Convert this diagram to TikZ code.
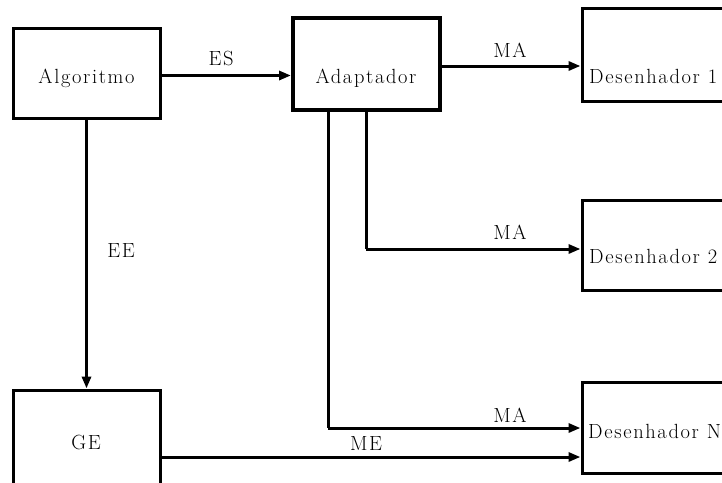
\documentclass[tikz,border=0pt]{standalone}
\usepackage{fontspec}
\setmainfont{Latin Modern Roman}[LetterSpace=8]
\usetikzlibrary{arrows.meta}
\begin{document}
\begin{tikzpicture}[x=1pt,y=-1pt,
  box/.style={draw,line width=3pt,rectangle,inner sep=0pt},
  thickbox/.style={box,line width=4pt},
  lbl/.style={inner sep=0pt,anchor=base,font=\fontsize{20.5}{24}\selectfont},
  arr/.style={line width=3pt,-{Triangle[length=12pt,width=9pt]}},
  ln/.style={line width=3pt}]
\useasboundingbox (0,0) rectangle (722,482);
\clip (0,0) rectangle (722,482);
% boxes
\node[box,minimum width=147pt,minimum height=90pt] (alg) at (86.5,73) {};
\node[thickbox,minimum width=147pt,minimum height=92pt] (ada) at (366.5,64) {};
\node[box,minimum width=218pt,minimum height=93pt] (d1) at (691,54.5) {};
\node[box,minimum width=218pt,minimum height=90pt] (d2) at (691,245) {};
\node[box,minimum width=218pt,minimum height=91pt] (dn) at (691,427.5) {};
\node[box,minimum width=147pt,minimum height=185pt] (ge) at (86.5,482.5) {};
% texts
\node[lbl] (talg) at (86.5,83) {Algoritmo};
\node[lbl] (tada) at (366,83) {Adaptador};
\node[lbl,anchor=base west] (td1) at (589,83) {Desenhador 1};
\node[lbl,anchor=base west] (td2) at (589,263) {Desenhador 2};
\node[lbl,anchor=base west] (tdn) at (588,438) {Desenhador N};
\node[lbl] (tge) at (86,449) {GE};
\node[lbl] (les) at (221,65) {ES};
\node[lbl] (lma1) at (510,57) {MA};
\node[lbl] (lma2) at (510,239) {MA};
\node[lbl] (lma3) at (510,422) {MA};
\node[lbl] (lme) at (366,450) {ME};
\node[lbl] (lee) at (121,257) {EE};
% connectors
\coordinate (c2) at (366,249);
\coordinate (c3) at (328,428);
\draw[arr] (alg.east |- 0,75.5) -- (ada.west |- 0,75.5);
\draw[arr] (ada.east |- 0,66) -- (d1.west |- 0,66);
\draw[ln] (ada.south -| c2) -- (c2);
\draw[arr] (c2) -- (d2.west |- c2);
\draw[ln] (ada.south -| c3) -- (c3);
\draw[arr] (c3) -- (dn.west |- c3);
\draw[arr] (alg.south) -- (ge.north);
\draw[arr] (ge.east |- 0,457) -- (dn.west |- 0,457);
\end{tikzpicture}
\end{document}
